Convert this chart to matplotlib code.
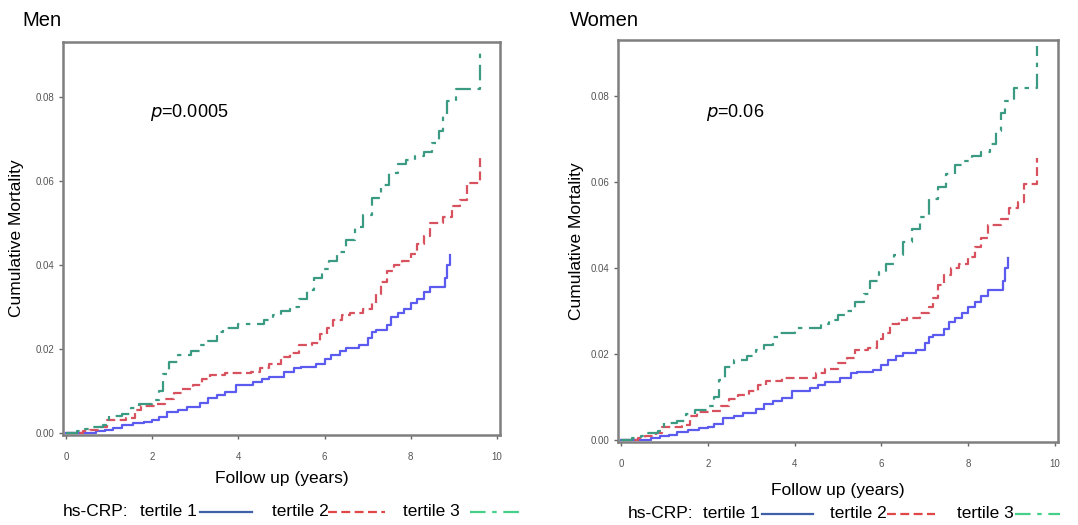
import matplotlib
matplotlib.use("Agg")
import matplotlib.pyplot as plt
from matplotlib.lines import Line2D

plt.rcParams['font.family'] = ['Liberation Sans', 'DejaVu Sans']

# follow-up time (years) and cumulative mortality
t1 = [0, 0.7, 0.9, 1.1, 1.3, 1.55, 1.8, 2.0, 2.15, 2.35, 2.6, 2.8, 3.1, 3.3, 3.5,
      3.7, 3.95, 4.35, 4.55, 4.7, 5.05, 5.3, 5.45, 5.8, 6.0, 6.15, 6.35, 6.5, 6.8,
      7.0, 7.1, 7.2, 7.45, 7.55, 7.7, 7.85, 8.0, 8.15, 8.3, 8.45, 8.8, 8.85, 8.92]
v1 = [0, 0.0005, 0.0008, 0.0012, 0.0018, 0.0024, 0.0027, 0.003, 0.0038, 0.005,
      0.0055, 0.0062, 0.0071, 0.0083, 0.009, 0.0098, 0.0114, 0.0121, 0.0128, 0.0134,
      0.0145, 0.0155, 0.0158, 0.0163, 0.0175, 0.0185, 0.0195, 0.0202, 0.021, 0.0225,
      0.024, 0.0245, 0.0258, 0.0275, 0.0285, 0.0295, 0.031, 0.032, 0.0335, 0.0348,
      0.037, 0.040, 0.0424]

t2 = [0, 0.4, 0.55, 0.8, 0.95, 1.4, 1.6, 1.75, 2.1, 2.3, 2.5, 2.7, 2.95, 3.15, 3.35,
      3.7, 4.3, 4.5, 4.7, 5.0, 5.2, 5.4, 5.7, 5.9, 6.05, 6.2, 6.4, 6.6, 6.9, 7.1,
      7.2, 7.3, 7.45, 7.6, 7.8, 8.0, 8.15, 8.3, 8.45, 8.75, 8.95, 9.15, 9.3, 9.6]
v2 = [0, 0.0004, 0.0008, 0.0015, 0.003, 0.0035, 0.0055, 0.0065, 0.0068, 0.008,
      0.0095, 0.0105, 0.0115, 0.0128, 0.0137, 0.0143, 0.0145, 0.0155, 0.0165, 0.018,
      0.019, 0.021, 0.0215, 0.0235, 0.025, 0.027, 0.028, 0.0285, 0.0295, 0.031,
      0.033, 0.036, 0.0385, 0.040, 0.041, 0.0425, 0.045, 0.047, 0.050, 0.0515,
      0.054, 0.0555, 0.0595, 0.0657]

t3 = [0, 0.25, 0.45, 0.6, 0.85, 1.0, 1.3, 1.5, 1.7, 2.0, 2.15, 2.25, 2.4, 2.6, 2.9,
      3.1, 3.3, 3.5, 3.65, 4.0, 4.4, 4.6, 4.8, 5.0, 5.2, 5.4, 5.6, 5.75, 5.95, 6.1,
      6.3, 6.5, 6.7, 6.9, 7.1, 7.3, 7.5, 7.7, 7.9, 8.1, 8.3, 8.5, 8.65, 8.75, 8.85,
      9.05, 9.6]
v3 = [0, 0.0005, 0.001, 0.0015, 0.002, 0.004, 0.0045, 0.006, 0.007, 0.0078,
      0.01, 0.014, 0.017, 0.0185, 0.0195, 0.021, 0.022, 0.024, 0.025, 0.026,
      0.026, 0.027, 0.028, 0.029, 0.030, 0.032, 0.034, 0.037, 0.039, 0.041,
      0.043, 0.046, 0.049, 0.052, 0.056, 0.059, 0.062, 0.064, 0.065, 0.066,
      0.067, 0.069, 0.072, 0.076, 0.079, 0.082, 0.0917]

# both panels show the same curves
men = [(t1, v1), (t2, v2), (t3, v3)]
women = [(t1, v1), (t2, v2), (t3, v3)]

titles = ["Men", "Women"]
pvalues = ["0.0005", "0.06"]
xticks = [0, 2, 4, 6, 8, 10]
yticks = [0.00, 0.02, 0.04, 0.06, 0.08]
tertile_labels = ["tertile 1", "tertile 2", "tertile 3"]

line_colors = ["#5b5bf0", "#d8515f", "#3a9a82"]
legend_colors = ["#3f5fa8", "#e04848", "#45d08a"]
styles = [dict(linestyle="-"),
          dict(linestyle=(0, (4, 2))),
          dict(linestyle=(0, (7, 3, 2, 3)))]


fig = plt.figure(figsize=(10.78, 5.25), dpi=100)

ax_men = fig.add_axes([0.0584, 0.1714, 0.4054, 0.7486])
ax_women = fig.add_axes([0.5733, 0.158, 0.408, 0.7657])


def draw_panel(ax, curves, pval):
    for (t, v), col, st in zip(curves, line_colors, styles):
        ax.plot(t, v, drawstyle="steps-post", color=col, lw=1.6, **st)
    ax.set_xlim(-0.07, 10.07)
    ax.set_ylim(-0.0005, 0.0931)
    ax.set_xticks(xticks)
    ax.set_yticks(yticks)
    ax.set_xticklabels([str(x) for x in xticks])
    ax.set_yticklabels(["%.2f" % y for y in yticks])
    ax.tick_params(direction="out", length=3, width=1, colors="#666666",
                   labelsize=7, labelcolor="#555555")
    ax.tick_params(axis="x", pad=9)
    ax.tick_params(axis="y", pad=3)
    for s in ax.spines.values():
        s.set_color("#7f7f7f")
        s.set_linewidth(1.8)
    ax.set_ylabel("Cumulative Mortality", fontsize=12.5)
    ax.set_xlabel("Follow up (years)", fontsize=12.5)
    ax.text(0.2, 0.82, r"$\it{p}$=" + pval, transform=ax.transAxes,
            fontsize=13, va="center")


draw_panel(ax_men, men, pvalues[0])
draw_panel(ax_women, women, pvalues[1])
ax_men.yaxis.set_label_coords(-0.089, 0.5)
ax_women.yaxis.set_label_coords(-0.077, 0.5)
ax_men.xaxis.set_label_coords(0.5, -0.092)
ax_women.xaxis.set_label_coords(0.5, -0.102)

fig.text(22 / 1078, 1 - 20 / 525, titles[0], fontsize=14.5, va="center")
fig.text(570 / 1078, 1 - 20 / 525, titles[1], fontsize=14.5, va="center")

# legends below each panel (text + line sample, in pixel positions)
legend_rows = [
    dict(y=512, head=63, texts=[140, 272, 403], lines=[(200, 252), (328, 385), (470, 525)]),
    dict(y=514, head=628, texts=[703, 830, 957], lines=[(762, 813), (887, 935), (1015, 1060)]),
]
W, H = 1078, 525
for row in legend_rows:
    yy = 1 - row["y"] / H
    fig.text(row["head"] / W, yy, "hs-CRP:", fontsize=12.5, va="center")
    for lab, xt, (xa, xb), col, st in zip(tertile_labels, row["texts"], row["lines"],
                                           legend_colors, styles):
        fig.text(xt / W, yy, lab, fontsize=12.5, va="center")
        fig.add_artist(Line2D([xa / W, xb / W], [yy, yy], color=col, lw=1.6,
                              transform=fig.transFigure, **st))

fig.savefig("out.png", dpi=100)
